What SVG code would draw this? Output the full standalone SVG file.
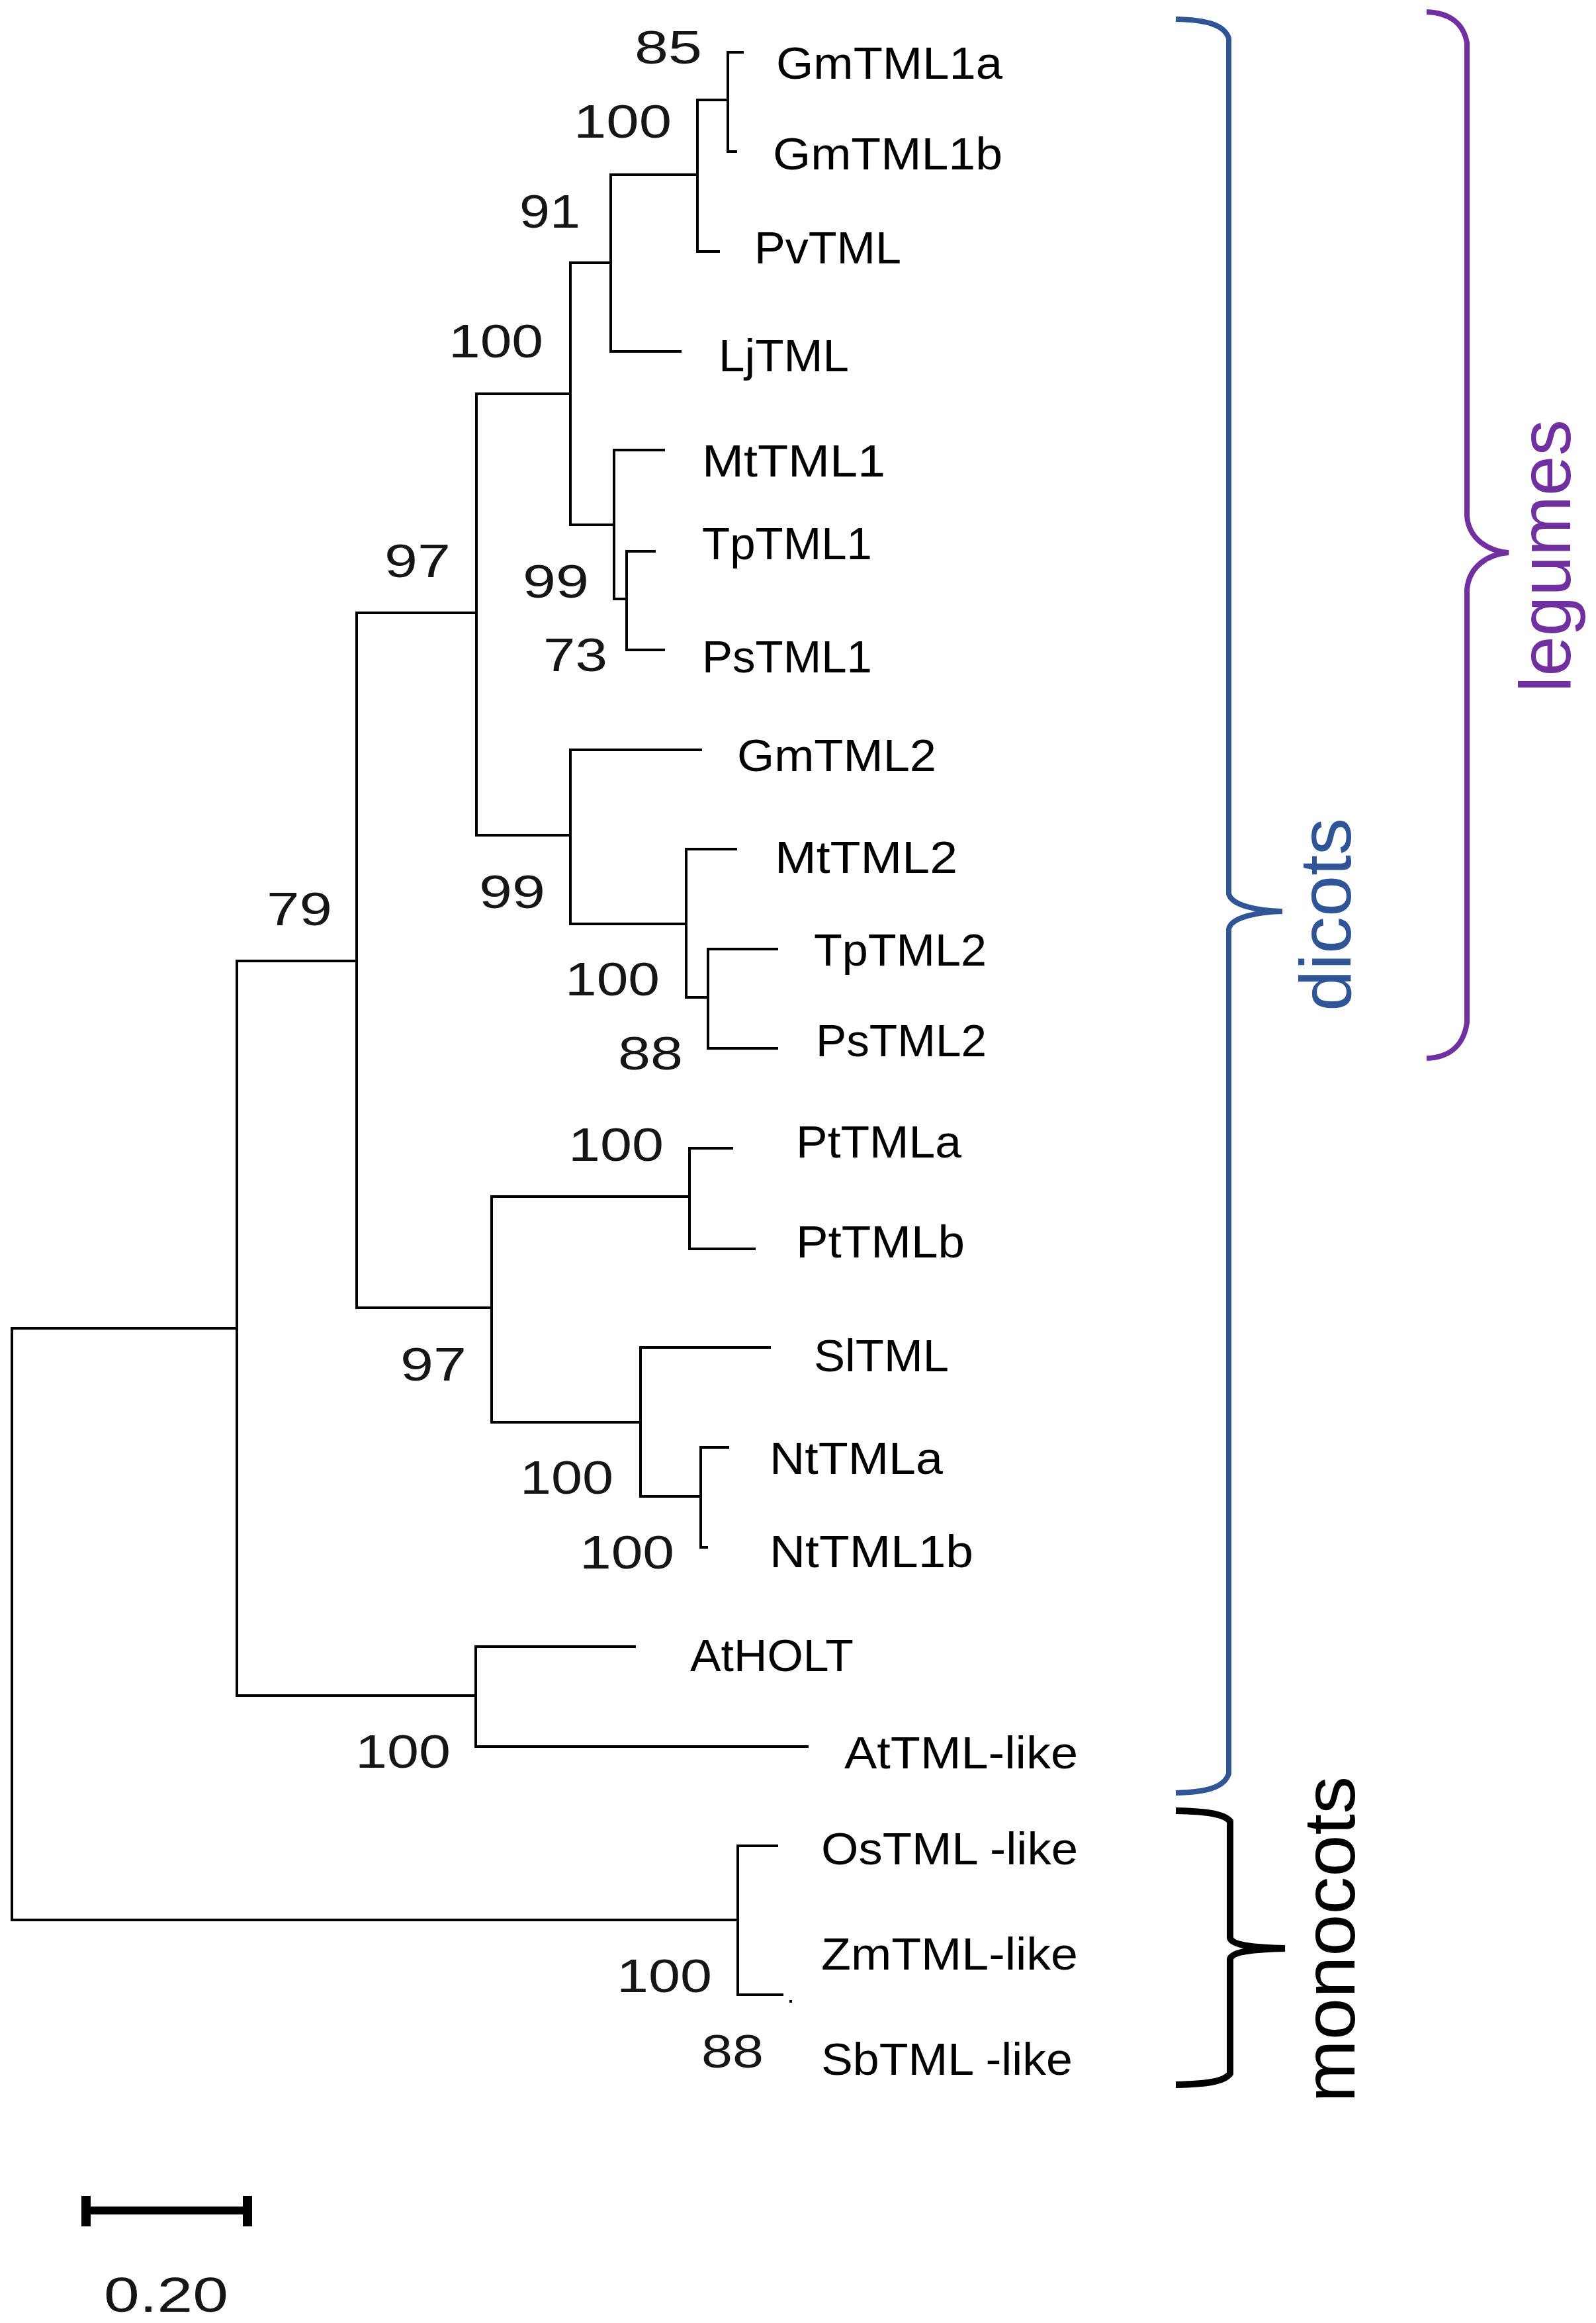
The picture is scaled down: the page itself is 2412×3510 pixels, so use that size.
<svg xmlns="http://www.w3.org/2000/svg" width="2412" height="3510" viewBox="0 0 2412 3510">
<style>
.br{fill:none;stroke:#000;stroke-width:4;stroke-linecap:square}
.tx{font-family:"Liberation Sans",Arial,sans-serif;font-size:68px;fill:#000}
.bs{font-family:"Liberation Sans",Arial,sans-serif;font-size:70px;fill:#151515}
.cl{font-family:"Liberation Sans",Arial,sans-serif;font-size:110px}
</style>
<rect width="2412" height="3510" fill="#fff"/>
<g id="connectors">
<path class="br" d="M18,2007V2901 M18,2007H358 M18,2901H1115
M358,1452V2562 M358,1452H539 M358,2562H719
M539,926V1976 M539,926H720 M539,1976H743
M720,595V1262 M720,595H862 M720,1262H862
M862,397V793 M862,397H923 M862,793H928
M923,264V531 M923,264H1054 M923,531H1028
M1054,151V380 M1054,151H1100 M1054,380H1086
M1100,79V229 M1100,79H1122 M1100,229H1112
M928,680V905 M928,680H1003 M928,905H947
M947,833V982 M947,833H989 M947,982H1003
M862,1133V1396 M862,1133H1059 M862,1396H1037
M1037,1283V1507 M1037,1283H1112 M1037,1507H1070
M1070,1434V1584 M1070,1434H1174 M1070,1584H1174
M743,1808V2149 M743,1808H1042 M743,2149H968
M1042,1735V1887 M1042,1735H1106 M1042,1887H1140
M968,2036V2261 M968,2036H1163 M968,2261H1059
M1059,2187V2338 M1059,2187H1100 M1059,2338H1068
M719,2488V2639 M719,2488H959 M719,2639H1220
M1115,2789V3014 M1115,2789H1174 M1115,3014H1182"/>
<rect x="1193" y="3022" width="4" height="4" fill="#000"/>
</g>
<g id="taxa" class="tx">
<g id="n-GmTML1a"><text x="1173" y="119" textLength="342" lengthAdjust="spacingAndGlyphs">GmTML1a</text></g>
<g id="n-GmTML1b"><text x="1168" y="256" textLength="347" lengthAdjust="spacingAndGlyphs">GmTML1b</text></g>
<g id="n-PvTML"><text x="1140" y="398" textLength="222" lengthAdjust="spacingAndGlyphs">PvTML</text></g>
<g id="n-LjTML"><text x="1086" y="561" textLength="197" lengthAdjust="spacingAndGlyphs">LjTML</text></g>
<g id="n-MtTML1"><text x="1061" y="720" textLength="277" lengthAdjust="spacingAndGlyphs">MtTML1</text></g>
<g id="n-TpTML1"><text x="1061" y="845" textLength="257" lengthAdjust="spacingAndGlyphs">TpTML1</text></g>
<g id="n-PsTML1"><text x="1061" y="1016" textLength="257" lengthAdjust="spacingAndGlyphs">PsTML1</text></g>
<g id="n-GmTML2"><text x="1114" y="1165" textLength="301" lengthAdjust="spacingAndGlyphs">GmTML2</text></g>
<g id="n-MtTML2"><text x="1171" y="1319" textLength="276" lengthAdjust="spacingAndGlyphs">MtTML2</text></g>
<g id="n-TpTML2"><text x="1230" y="1459" textLength="261" lengthAdjust="spacingAndGlyphs">TpTML2</text></g>
<g id="n-PsTML2"><text x="1233" y="1596" textLength="258" lengthAdjust="spacingAndGlyphs">PsTML2</text></g>
<g id="n-PtTMLa"><text x="1203" y="1749" textLength="250" lengthAdjust="spacingAndGlyphs">PtTMLa</text></g>
<g id="n-PtTMLb"><text x="1203" y="1900" textLength="255" lengthAdjust="spacingAndGlyphs">PtTMLb</text></g>
<g id="n-SlTML"><text x="1230" y="2072" textLength="204" lengthAdjust="spacingAndGlyphs">SlTML</text></g>
<g id="n-NtTMLa"><text x="1163" y="2227" textLength="262" lengthAdjust="spacingAndGlyphs">NtTMLa</text></g>
<g id="n-NtTML1b"><text x="1163" y="2368" textLength="308" lengthAdjust="spacingAndGlyphs">NtTML1b</text></g>
<g id="n-AtHOLT"><text x="1043" y="2525" textLength="247" lengthAdjust="spacingAndGlyphs">AtHOLT</text></g>
<g id="n-AtTML-like"><text x="1276" y="2672" textLength="353" lengthAdjust="spacingAndGlyphs">AtTML-like</text></g>
<g id="n-OsTML-like"><text x="1241" y="2817" textLength="388" lengthAdjust="spacingAndGlyphs">OsTML -like</text></g>
<g id="n-ZmTML-like"><text x="1241" y="2976" textLength="388" lengthAdjust="spacingAndGlyphs">ZmTML-like</text></g>
<g id="n-SbTML-like"><text x="1241" y="3135" textLength="380" lengthAdjust="spacingAndGlyphs">SbTML -like</text></g>
</g>
<g id="bootstrap" class="bs">
<g id="b1"><text x="959" y="96" textLength="102" lengthAdjust="spacingAndGlyphs">85</text></g>
<g id="b2"><text x="867" y="208" textLength="148" lengthAdjust="spacingAndGlyphs">100</text></g>
<g id="b3"><text x="785" y="344" textLength="92" lengthAdjust="spacingAndGlyphs">91</text></g>
<g id="b4"><text x="678" y="540" textLength="143" lengthAdjust="spacingAndGlyphs">100</text></g>
<g id="b5"><text x="581" y="872" textLength="100" lengthAdjust="spacingAndGlyphs">97</text></g>
<g id="b6"><text x="790" y="903" textLength="100" lengthAdjust="spacingAndGlyphs">99</text></g>
<g id="b7"><text x="821" y="1014" textLength="97" lengthAdjust="spacingAndGlyphs">73</text></g>
<g id="b8"><text x="724" y="1372" textLength="100" lengthAdjust="spacingAndGlyphs">99</text></g>
<g id="b9"><text x="403" y="1398" textLength="99" lengthAdjust="spacingAndGlyphs">79</text></g>
<g id="b10"><text x="854" y="1504" textLength="143" lengthAdjust="spacingAndGlyphs">100</text></g>
<g id="b11"><text x="934" y="1616" textLength="98" lengthAdjust="spacingAndGlyphs">88</text></g>
<g id="b12"><text x="859" y="1754" textLength="144" lengthAdjust="spacingAndGlyphs">100</text></g>
<g id="b13"><text x="605" y="2086" textLength="100" lengthAdjust="spacingAndGlyphs">97</text></g>
<g id="b14"><text x="786" y="2257" textLength="141" lengthAdjust="spacingAndGlyphs">100</text></g>
<g id="b15"><text x="876" y="2370" textLength="143" lengthAdjust="spacingAndGlyphs">100</text></g>
<g id="b16"><text x="537" y="2671" textLength="144" lengthAdjust="spacingAndGlyphs">100</text></g>
<g id="b17"><text x="932" y="3010" textLength="144" lengthAdjust="spacingAndGlyphs">100</text></g>
<g id="b18"><text x="1060" y="3124" textLength="94" lengthAdjust="spacingAndGlyphs">88</text></g>
</g>
<g id="clades">
<g id="dicots">
<path d="M1777,29 C1820,30 1850,36 1857,58 L1857,1350 C1860,1368 1900,1376 1938,1377 C1900,1378 1860,1386 1857,1404 L1857,2680 C1850,2702 1820,2708 1777,2709" fill="none" stroke="#2f5597" stroke-width="8"/>
<text class="cl" transform="translate(2041,1528) rotate(-90)" fill="#2f5597" textLength="292" lengthAdjust="spacingAndGlyphs">dicots</text>
</g>
<g id="legumes">
<path d="M2156,18 C2190,19 2212,35 2217,65 L2217,780 C2220,815 2250,833 2280,835 C2250,837 2220,855 2217,891 L2217,1545 C2212,1580 2190,1598 2156,1599" fill="none" stroke="#7030a0" stroke-width="8"/>
<text class="cl" transform="translate(2373,1046) rotate(-90)" fill="#7030a0" textLength="412" lengthAdjust="spacingAndGlyphs">legumes</text>
</g>
<g id="monocots">
<path d="M1777,2736 C1820,2737 1850,2740 1859,2752 L1859,2928 C1862,2940 1900,2943 1942,2944 C1900,2945 1862,2948 1859,2960 L1859,3133 C1850,3146 1820,3149 1777,3150" fill="none" stroke="#000" stroke-width="10"/>
<text class="cl" transform="translate(2047,3177) rotate(-90)" fill="#000" textLength="493" lengthAdjust="spacingAndGlyphs">monocots</text>
</g>
</g>
<g id="scalebar">
<path d="M130,3340H374" stroke="#000" stroke-width="12"/>
<path d="M130,3318V3364 M374,3318V3364" stroke="#000" stroke-width="14"/>
<text x="157" y="3493" font-family="Liberation Sans,Arial,sans-serif" font-size="75" fill="#151515" textLength="188" lengthAdjust="spacingAndGlyphs">0.20</text>
</g>
</svg>
